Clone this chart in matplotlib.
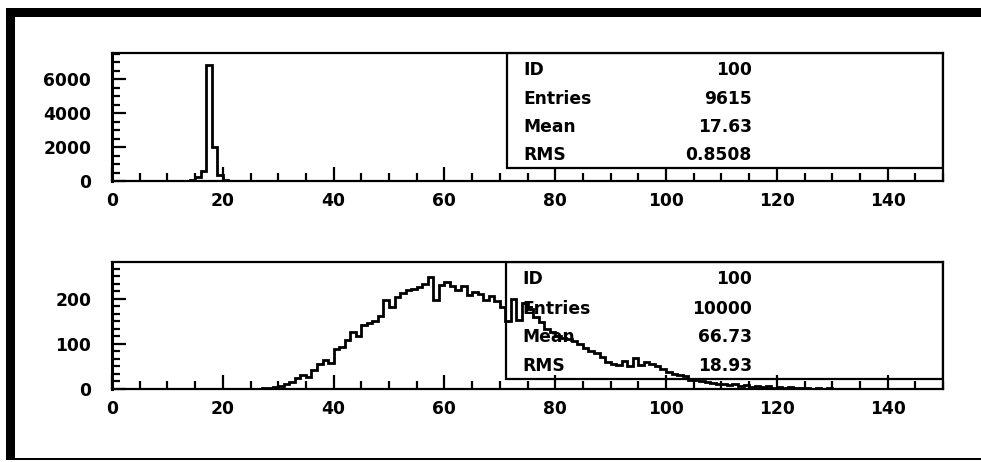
import matplotlib
matplotlib.use("Agg")
import matplotlib.pyplot as plt
import numpy as np
from matplotlib.ticker import MultipleLocator, AutoMinorLocator
from matplotlib.patches import Rectangle

plt.rcParams['font.family'] = ['DejaVu Sans']
plt.rcParams['font.weight'] = 'bold'

# 150 bins of width 1 between 0 and 150
x_min, x_max = 0, 150

# upper histogram: narrow peak
counts_top = [
    0, 0, 0, 0, 0, 0, 0, 0, 0, 0,
    0, 0, 0, 0, 60, 260, 560, 6850, 1980, 350,
    40, 0, 0, 0, 0, 0, 0, 0, 0, 0,
] + [0] * 120

# lower histogram: broad distribution
counts_bot = [
    0, 0, 0, 0, 0, 0, 0, 0, 0, 0,
    0, 0, 0, 0, 0, 0, 0, 0, 0, 0,
    0, 0, 0, 0, 0, 1, 1, 2, 2, 4,
    7, 12, 16, 24, 30, 27, 42, 55, 64, 58,
    88, 94, 108, 126, 118, 142, 146, 150, 162, 198,
    183, 205, 214, 219, 221, 226, 233, 248, 197, 232,
    237, 229, 219, 228, 208, 215, 211, 197, 206, 195,
    181, 152, 200, 153, 190, 178, 159, 148, 133, 126,
    118, 113, 110, 106, 99, 92, 85, 80, 72, 61,
    55, 54, 62, 52, 68, 53, 60, 55, 50, 44,
    38, 34, 31, 28, 21, 20, 18, 15, 14, 10,
    12, 8, 10, 6, 9, 5, 7, 4, 6, 3,
    5, 3, 4, 2, 3, 2, 1, 2, 1, 2,
    0, 1, 1, 0, 1, 0, 1, 0, 0, 1,
    0, 1, 0, 0, 1, 0, 0, 1, 0, 0,
]

stat_names = ["ID", "Entries", "Mean", "RMS"]
stats_top = ["100", "9615", "17.63", "0.8508"]
stats_bot = ["100", "10000", "66.73", "18.93"]

edges = np.arange(x_min, x_max + 1, 1)

W, H = 981, 462
fig = plt.figure(figsize=(W / 100, H / 100), dpi=100)
fig.patch.set_facecolor('white')


def px_axes(left, top, right, bottom):
    return fig.add_axes([left / W, 1 - bottom / H, (right - left) / W, (bottom - top) / H])


def style_axes(ax, ymax, ymajor, yminor_n):
    ax.set_xlim(x_min, x_max)
    ax.set_ylim(0, ymax)
    ax.xaxis.set_major_locator(MultipleLocator(20))
    ax.xaxis.set_minor_locator(AutoMinorLocator(4))
    ax.yaxis.set_major_locator(MultipleLocator(ymajor))
    ax.yaxis.set_minor_locator(AutoMinorLocator(yminor_n))
    ax.tick_params(which='both', direction='in', top=False, right=False, width=1.6)
    ax.tick_params(which='major', length=10, labelsize=12.3)
    ax.tick_params(which='minor', length=5.5)
    ax.tick_params(axis='x', pad=8)
    ax.tick_params(axis='y', pad=15)
    for s in ax.spines.values():
        s.set_linewidth(1.6)
    ax.spines['left'].set_linewidth(2.2)


def stats_box(ax, x0, y0, rows, values):
    ax.add_patch(Rectangle((x0, y0), 1 - x0, 1 - y0, transform=ax.transAxes,
                           fill=False, edgecolor='black', lw=1.6, zorder=4))
    for (yr, name, val) in zip(rows, stat_names, values):
        ax.text(x0 + 0.02, yr, name, transform=ax.transAxes, fontsize=12.3,
                fontweight='bold', va='center', ha='left', zorder=5)
        ax.text(0.770, yr, val, transform=ax.transAxes, fontsize=12.3,
                fontweight='bold', va='center', ha='right', zorder=5)


# upper panel
ax1 = px_axes(112, 53, 943, 181)
ax1.stairs(counts_top, edges, color='black', lw=2.0, baseline=0)
style_axes(ax1, 7530, 2000, 4)
stats_box(ax1, 0.475, 0.102, [0.867, 0.641, 0.422, 0.203], stats_top)

# lower panel
ax2 = px_axes(112, 262, 943, 389)
ax2.stairs(counts_bot, edges, color='black', lw=2.0, baseline=0)
style_axes(ax2, 282, 100, 6)
stats_box(ax2, 0.474, 0.079, [0.866, 0.630, 0.409, 0.181], stats_bot)

# page frame
fig.add_artist(Rectangle((6 / W, 1 - 17 / H), 1, 9 / H, transform=fig.transFigure,
                         color='black', lw=0))
fig.add_artist(Rectangle((6 / W, 1 - 459 / H), 9 / W, 442 / H, transform=fig.transFigure,
                         color='black', lw=0))
fig.add_artist(Rectangle((6 / W, 1 - 460 / H), 1, 2 / H, transform=fig.transFigure,
                         color='black', lw=0))

fig.savefig("out.png", dpi=100)
